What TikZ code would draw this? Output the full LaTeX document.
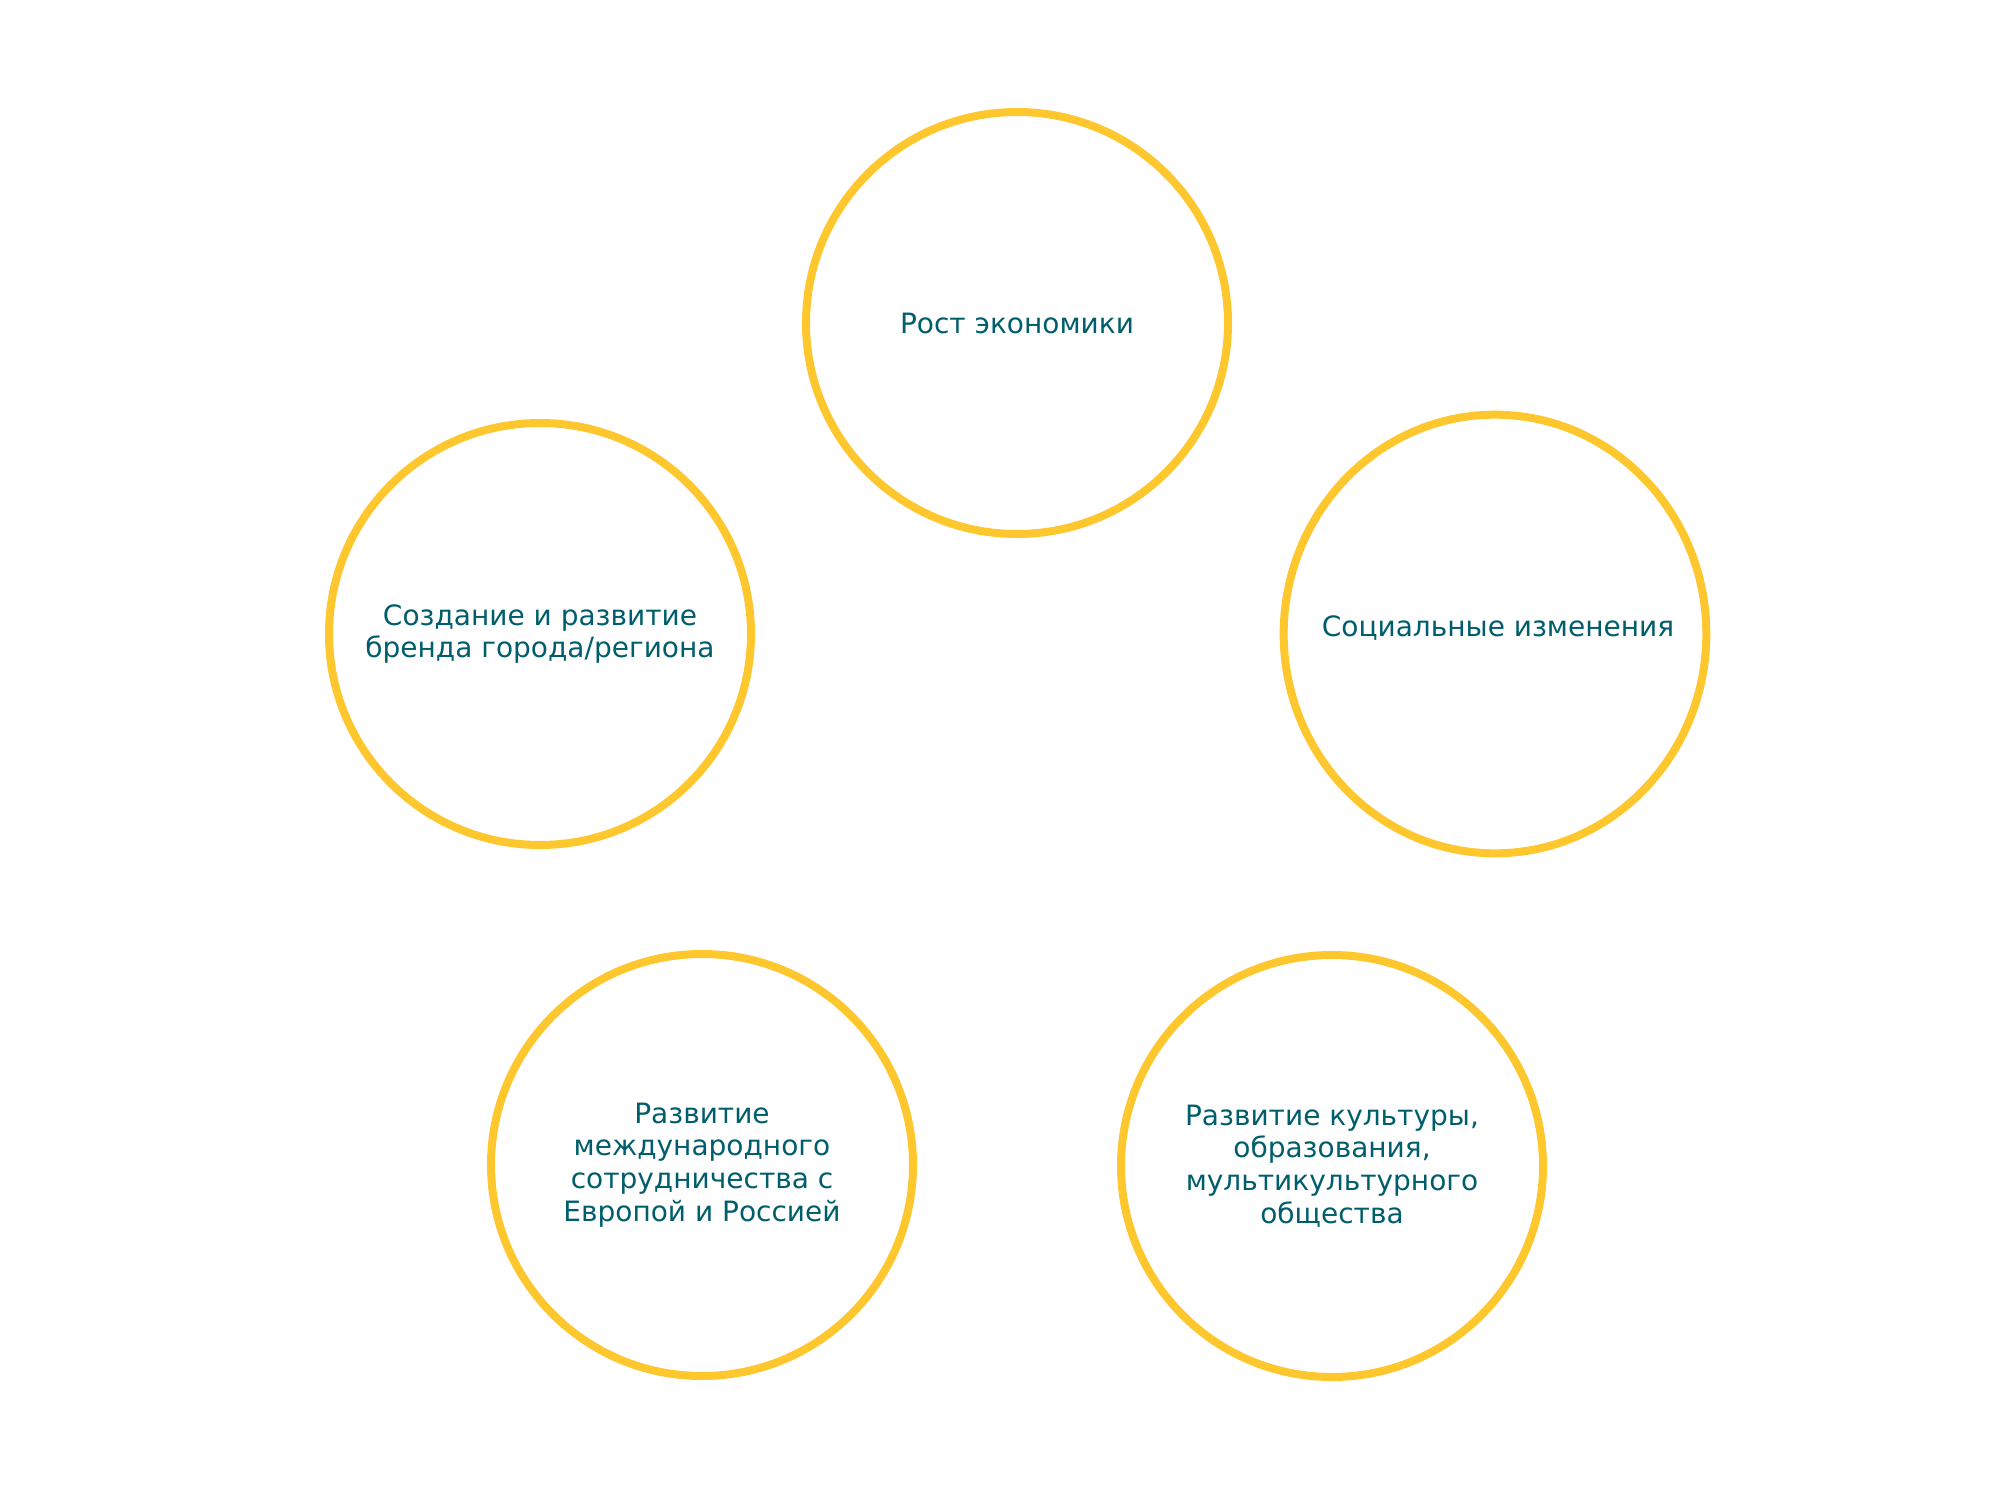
\documentclass[tikz,border=0pt]{standalone}
\usepackage{fontspec}
\setmainfont{DejaVu Sans}
\usepackage{xcolor}
\usetikzlibrary{shapes.geometric}
\definecolor{ringyellow}{RGB}{254,199,46}
\definecolor{labelteal}{RGB}{0,94,108}

\tikzset{
    ring/.style={circle, draw=ringyellow, line width=6pt, minimum size=316.5pt,
        inner sep=0pt, align=center, text=labelteal,
        font=\fontsize{21pt}{24.5pt}\selectfont},
    ringoval/.style={ring, ellipse, minimum width=317pt, minimum height=329pt},
    ringtext/.style={align=center, text=labelteal, inner sep=0pt,
        font=\fontsize{21pt}{24.5pt}\selectfont}
}

\begin{document}
\begin{tikzpicture}[x=0.75pt, y=-0.75pt]
    \useasboundingbox (0,0) rectangle (2000,1510);

    % Top
    \node[ring] (economy) at (1017, 323) {Рост экономики};

    % Middle row
    \node[ring] (brand) at (540, 634) {Создание и развитие\\бренда города/региона};
    \node[ringoval] (social) at (1495, 634) {};
    \node[ringtext] (socialtext) at (1498, 628) {Социальные изменения};

    % Bottom row
    \node[ring] (cooperation) at (702, 1165)
        {Развитие\\международного\\сотрудничества с\\Европой и Россией};
    \node[ring] (culture) at (1332, 1166)
        {Развитие культуры,\\образования,\\мультикультурного\\общества};
\end{tikzpicture}
\end{document}
